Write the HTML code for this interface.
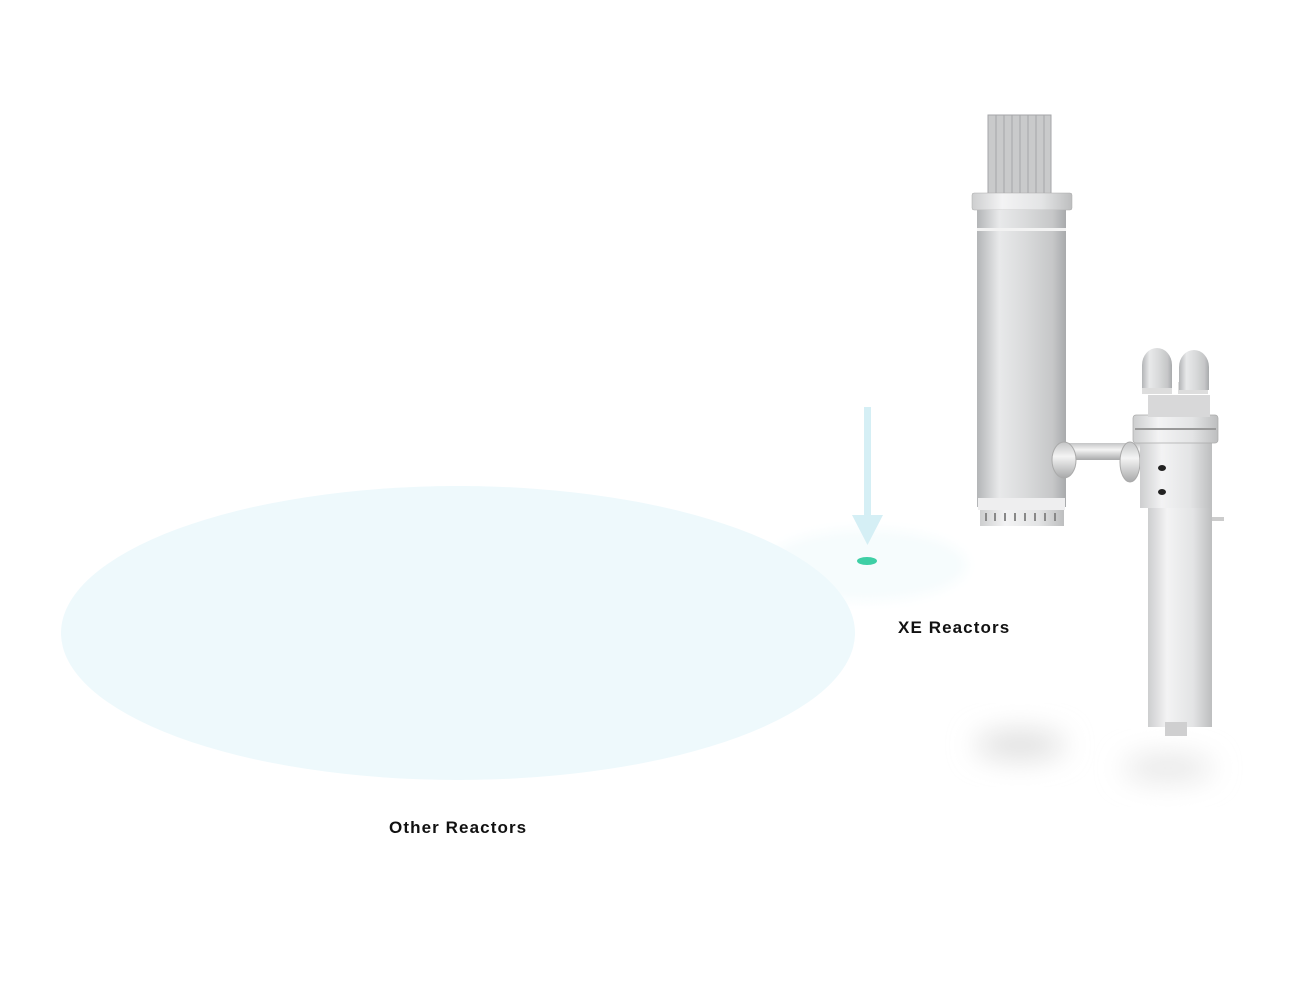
<!DOCTYPE html>
<html><head><meta charset="utf-8"><style>
html,body{margin:0;padding:0;background:#fff;width:1300px;height:1000px;overflow:hidden}
svg{display:block}
text{font-family:"Liberation Sans",sans-serif;font-weight:bold;font-size:17px;fill:#111;letter-spacing:1.1px}
</style></head><body>
<svg width="1300" height="1000" viewBox="0 0 1300 1000">
<defs>
<linearGradient id="cyl" x1="0" x2="1" y1="0" y2="0">
<stop offset="0" stop-color="#b3b5b7"/><stop offset="0.25" stop-color="#e8e9ea"/><stop offset="0.55" stop-color="#d9dadb"/><stop offset="0.85" stop-color="#c6c7c8"/><stop offset="1" stop-color="#a8aaac"/>
</linearGradient>
<linearGradient id="cyl2" x1="0" x2="1" y1="0" y2="0">
<stop offset="0" stop-color="#cdcecf"/><stop offset="0.3" stop-color="#f3f3f4"/><stop offset="0.7" stop-color="#e3e4e5"/><stop offset="1" stop-color="#bdbebf"/>
</linearGradient>
<linearGradient id="pipe" x1="0" x2="0" y1="0" y2="1">
<stop offset="0" stop-color="#c4c5c6"/><stop offset="0.4" stop-color="#f4f4f4"/><stop offset="1" stop-color="#a8a9aa"/>
</linearGradient>
<filter id="bl" x="-50%" y="-100%" width="200%" height="300%"><feGaussianBlur stdDeviation="14"/></filter>
<filter id="bl2"><feGaussianBlur stdDeviation="6"/></filter>
</defs>
<ellipse cx="867" cy="565" rx="100" ry="36" fill="#f6fcfd" filter="url(#bl2)"/>
<ellipse cx="458" cy="633" rx="397" ry="147" fill="#eef9fc"/>
<rect x="864" y="407" width="7" height="110" fill="#d5eff5"/>
<polygon points="852,515 883,515 867.5,545" fill="#d5eff5"/>
<ellipse cx="867" cy="561" rx="10" ry="4" fill="#3ecfa5"/>
<text x="898" y="633">XE Reactors</text>
<text x="389" y="833">Other Reactors</text>
<!-- shadows -->
<ellipse cx="1020" cy="745" rx="45" ry="14" fill="#dedede" filter="url(#bl)"/>
<ellipse cx="1168" cy="768" rx="45" ry="13" fill="#e6e6e6" filter="url(#bl)"/>
<!-- left reactor tubes -->
<g fill="#c9cacb" stroke="#a5a6a8" stroke-width="1">
<rect x="988" y="115" width="8" height="82"/><rect x="996" y="115" width="8" height="82"/><rect x="1004" y="115" width="8" height="82"/><rect x="1012" y="115" width="8" height="82"/><rect x="1020" y="115" width="8" height="82"/><rect x="1028" y="115" width="8" height="82"/><rect x="1036" y="115" width="8" height="82"/><rect x="1044" y="115" width="7" height="82"/>
</g>
<rect x="972" y="193" width="100" height="17" rx="2" fill="url(#cyl2)" stroke="#aaa" stroke-width="0.5"/>
<rect x="977" y="210" width="89" height="297" fill="url(#cyl)"/>
<rect x="977" y="228" width="89" height="3" fill="#f2f2f2"/>
<rect x="978" y="498" width="87" height="12" fill="#eeeeef"/>
<rect x="980" y="510" width="84" height="16" fill="url(#cyl2)"/>
<g fill="#888"><rect x="985" y="513" width="2" height="8"/><rect x="994" y="513" width="2" height="8"/><rect x="1004" y="513" width="2" height="8"/><rect x="1014" y="513" width="2" height="8"/><rect x="1024" y="513" width="2" height="8"/><rect x="1034" y="513" width="2" height="8"/><rect x="1044" y="513" width="2" height="8"/><rect x="1054" y="513" width="2" height="8"/></g>
<!-- pipe -->
<rect x="1062" y="443" width="78" height="17" fill="url(#pipe)"/>
<ellipse cx="1064" cy="460" rx="12" ry="18" fill="url(#pipe)" stroke="#aaa"/>
<ellipse cx="1130" cy="462" rx="10" ry="20" fill="url(#pipe)" stroke="#aaa"/>
<!-- right vessel -->
<rect x="1148" y="505" width="64" height="222" fill="url(#cyl2)"/>
<rect x="1165" y="722" width="22" height="14" fill="#cfcfd0"/>
<rect x="1140" y="440" width="72" height="68" fill="url(#cyl2)"/>
<rect x="1133" y="415" width="85" height="28" rx="3" fill="url(#cyl2)" stroke="#aaa" stroke-width="0.7"/>
<rect x="1135" y="428" width="81" height="2" fill="#999"/>
<ellipse cx="1162" cy="468" rx="4" ry="3" fill="#222"/>
<ellipse cx="1162" cy="492" rx="4" ry="3" fill="#222"/>
<rect x="1212" y="517" width="12" height="4" fill="#ccc"/>
<rect x="1148" y="395" width="62" height="22" fill="#d8d8d9"/>
<rect x="1142" y="382" width="30" height="12" fill="#ddd"/>
<rect x="1178" y="382" width="30" height="12" fill="#ddd"/>
<path d="M1142,388 L1142,365 A15,17 0 0 1 1172,365 L1172,388 Z" fill="url(#cyl)"/>
<path d="M1179,390 L1179,367 A15,17 0 0 1 1209,367 L1209,390 Z" fill="url(#cyl)"/>
</svg>
</body></html>
